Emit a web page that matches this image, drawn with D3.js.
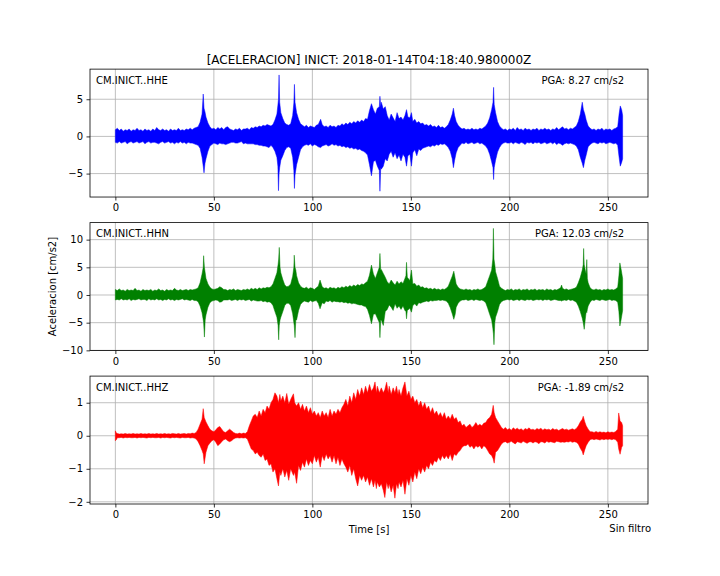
<!DOCTYPE html>
<html><head><meta charset="utf-8">
<script src="https://cdn.jsdelivr.net/npm/d3@7"></script>
<style>body{margin:0;background:#fff}svg{display:block}text{font-family:"DejaVu Sans",sans-serif;fill:#000}</style>
</head><body><svg id="c" width="720" height="576"></svg>
<script>
const titleText = "[ACELERACION] INICT: 2018-01-14T04:18:40.980000Z";
const stations = ["CM.INICT..HHE", "CM.INICT..HHN", "CM.INICT..HHZ"];
const pgaLabels = ["PGA: 8.27 cm/s2", "PGA: 12.03 cm/s2", "PGA: -1.89 cm/s2"];
const colors = ["#0000ff", "#008000", "#ff0000"];
const xTicks = [0, 50, 100, 150, 200, 250];
const yTicks = [[-5, 0, 5], [-10, -5, 0, 5, 10], [-2, -1, 0, 1]];
const timeRange = [0, 257.5];

// envelope readings: [time s, max, min]
const hhe = [
[0,0.9,-0.8],[1,1.1,-0.9],[2,0.8,-0.7],[3,1.0,-0.9],[4,0.7,-0.8],[5,0.9,-0.7],[6,0.8,-1.0],[7,1.0,-0.8],[8,0.7,-0.7],[9,0.9,-0.9],
[10,0.8,-0.8],[11,1.1,-0.7],[12,0.8,-0.9],[13,0.9,-0.8],[14,0.7,-0.7],[15,1.0,-1.0],[16,0.8,-0.8],[17,0.9,-0.7],[18,0.7,-0.9],[19,1.0,-0.8],
[20,0.8,-0.8],[21,1.2,-0.9],[22,0.9,-1.0],[23,0.8,-0.8],[24,1.0,-0.7],[25,0.8,-0.9],[26,0.9,-0.8],[27,0.7,-0.7],[28,1.0,-0.9],[29,0.8,-0.8],
[30,0.9,-1.0],[31,0.8,-0.8],[32,1.1,-0.9],[33,0.8,-0.7],[34,0.9,-0.9],[35,0.8,-0.8],[36,1.0,-1.0],[37,0.9,-0.8],[38,1.1,-0.9],[39,0.9,-0.9],
[40,1.1,-1.0],[41,1.2,-1.1],[42,1.3,-1.2],[43,1.9,-1.6],[44,3.0,-2.8],[44.6,5.7,-4.0],[45.0,3.8,-4.9],[45.5,3.3,-3.6],[46,2.6,-3.0],[47,1.8,-2.0],[48,1.3,-1.3],
[49,1.0,-1.1],[50,1.1,-0.9],[51,0.9,-1.0],[52,1.2,-1.1],[53,1.0,-0.9],[54,1.2,-1.0],[55,0.9,-1.0],[56,1.2,-1.1],[57,1.3,-1.0],[58,1.0,-0.9],
[59,0.9,-0.8],[60,0.8,-0.8],[61,1.0,-0.9],[62,0.9,-0.9],[63,1.1,-0.8],[64,0.8,-0.7],[65,1.0,-1.0],[66,1.0,-0.9],[67,1.1,-1.0],[68,0.9,-1.0],
[69,1.2,-1.0],[70,1.1,-1.0],[71,1.3,-1.1],[72,1.2,-1.1],[73,1.4,-1.2],[74,1.3,-1.2],[75,1.5,-1.3],[76,1.4,-1.3],[77,1.6,-1.4],[78,1.5,-1.5],
[79,1.4,-1.2],[80,1.6,-1.5],[81,2.2,-2.0],[82,3.0,-2.8],[82.5,4.2,-4.0],[82.8,5.0,-7.3],[83.1,8.27,-5.0],[83.4,4.6,-4.2],[84,3.2,-3.2],[85,2.4,-2.6],[86,1.8,-1.9],
[87,1.6,-1.5],[88,1.5,-1.4],[89,1.7,-1.6],[90,2.8,-2.8],[90.6,4.5,-4.6],[90.9,7.0,-7.0],[91.2,4.6,-5.2],[92,3.2,-3.8],[93,2.3,-2.8],[94,1.7,-1.8],
[95,1.5,-1.4],[96,1.3,-1.2],[97,1.5,-1.1],[98,1.2,-1.2],[99,1.4,-1.0],[100,1.3,-1.3],[101,1.2,-1.1],[102,1.5,-1.2],[103,1.6,-1.4],[104.2,2.3,-1.5],
[105,1.6,-1.3],[106,1.3,-1.2],[107,1.4,-1.1],[108,1.2,-1.3],[109,1.5,-1.2],[110,1.3,-1.0],[111,1.4,-1.2],[112,1.2,-1.1],[113,1.5,-1.3],[114,1.4,-1.2],
[115,1.7,-1.4],[116,1.5,-1.3],[117,1.8,-1.5],[118,1.6,-1.4],[119,1.9,-1.6],[120,1.7,-1.5],[121,2.0,-1.7],[122,1.8,-1.6],[123,2.1,-1.8],[124,1.9,-1.7],
[125,2.2,-1.9],[126,2.0,-2.0],[127,2.4,-2.2],[128,2.3,-2.5],[129,3.5,-3.8],[130,4.4,-5.3],[131,3.6,-3.4],[132,3.0,-3.2],[133,3.8,-4.0],[134,4.0,-4.6],[134.3,5.4,-7.37],[134.7,4.0,-4.2],
[135,4.6,-4.4],[136,3.7,-4.0],[137,4.0,-3.0],[138,2.8,-3.3],[139,2.2,-2.4],[140,3.0,-2.0],[141,2.5,-2.8],[142,2.0,-2.2],[143,3.2,-3.0],[144,2.4,-2.5],
[145,2.6,-3.3],[146,2.2,-2.4],[147,2.8,-2.8],[147.8,3.6,-4.0],[148.5,2.6,-2.6],[149.5,2.5,-2.4],[150.3,3.2,-4.0],[151,2.0,-2.2],[152,2.3,-1.8],[153,1.8,-2.6],
[154,2.0,-1.7],[155,1.7,-1.9],[156,1.8,-1.6],[157,1.5,-1.5],[158,1.6,-1.4],[159,1.4,-1.3],[160,1.6,-1.4],[161,1.3,-1.2],[162,1.4,-1.3],[163,1.2,-1.1],
[164,1.5,-1.2],[165,1.2,-1.0],[166,1.3,-1.1],[167,1.1,-1.0],[168,1.3,-1.2],[169,1.6,-1.5],[170,2.2,-2.0],[171,3.0,-3.0],[171.6,3.8,-4.2],[172.2,2.8,-3.2],
[173,2.0,-2.2],[174,1.5,-1.5],[175,1.2,-1.2],[176,1.0,-0.9],[177,1.1,-1.0],[178,0.9,-0.8],[179,1.0,-1.0],[180,0.9,-0.9],[181,1.1,-0.8],[182,0.9,-1.0],
[183,1.0,-0.9],[184,0.9,-0.8],[185,1.1,-1.0],[186,1.0,-0.9],[187,1.2,-1.1],[188,1.4,-1.3],[189,1.8,-1.7],[190,2.5,-2.4],[191,3.6,-3.4],[191.7,4.6,-4.2],[192,6.6,-5.8],
[192.3,4.3,-4.2],[193,3.2,-3.2],[194,2.0,-2.1],[195,1.4,-1.5],[196,1.1,-1.1],[197,0.9,-0.9],[198,1.0,-0.8],[199,0.8,-0.9],[200,1.0,-0.9],[201,0.9,-0.8],
[202,1.1,-1.0],[203,0.8,-0.8],[204,1.2,-0.9],[205,0.9,-1.0],[206,1.0,-0.8],[207,0.8,-0.9],[208,1.1,-1.1],[209,0.9,-0.8],[210,1.0,-0.9],[211,0.8,-0.8],
[212,1.0,-1.0],[213,0.9,-0.8],[214,1.1,-0.9],[215,0.8,-0.8],[216,1.0,-1.0],[217,0.9,-0.9],[218,1.1,-0.8],[219,0.9,-1.0],[220,1.0,-0.9],[221,0.8,-0.8],
[222,1.0,-1.0],[223,0.9,-0.8],[224,1.2,-1.1],[225,0.9,-0.9],[226,1.1,-1.0],[227,1.3,-1.2],[228,1.0,-1.0],[229,1.1,-0.9],[230,0.9,-1.0],[231,1.1,-0.9],
[232,1.0,-1.0],[233,1.2,-1.1],[234,1.4,-1.3],[235,2.0,-1.8],[236,3.0,-2.8],[237,4.6,-3.6],[237.6,3.6,-4.2],[238.3,3.0,-3.2],[239,2.2,-2.5],[240,1.4,-1.4],
[241,1.1,-1.1],[242,0.9,-0.9],[243,1.0,-0.8],[244,0.8,-0.9],[245,1.0,-1.0],[246,0.9,-0.8],[247,1.1,-0.9],[248,0.8,-0.8],[249,1.0,-1.0],[250,0.9,-0.9],
[251,1.0,-0.8],[252,0.8,-0.9],[253,1.0,-1.0],[254,1.1,-0.9],[255,1.3,-1.2],[255.7,3.0,-2.8],[256.3,4.1,-4.0],[257,3.6,-3.5],[257.5,2.8,-3.0]
];

const hhn = [
[0,1.0,-0.9],[1,0.8,-0.8],[2,1.1,-0.9],[3,0.8,-0.7],[4,0.9,-0.9],[5,0.7,-0.8],[6,1.0,-0.9],[7,0.8,-0.7],[8,0.9,-1.0],[9,0.8,-0.8],
[10,1.2,-0.9],[11,0.8,-0.8],[12,0.9,-0.7],[13,0.7,-0.9],[14,1.0,-0.8],[15,0.8,-0.8],[16,0.9,-1.0],[17,0.8,-0.7],[18,1.0,-0.9],[19,0.7,-0.8],
[20,0.9,-0.9],[21,0.8,-0.7],[22,1.1,-0.9],[23,0.8,-0.8],[24,0.9,-1.0],[25,0.7,-0.8],[26,1.0,-0.9],[27,0.8,-0.7],[28,0.9,-0.9],[29,0.8,-0.8],
[30,1.2,-1.0],[31,0.9,-0.8],[32,0.8,-0.9],[33,1.0,-0.8],[34,0.8,-0.7],[35,0.9,-0.9],[36,1.0,-0.8],[37,0.8,-0.9],[38,1.0,-1.0],[39,0.9,-0.8],
[40,1.0,-1.0],[41,1.1,-1.0],[42,1.3,-1.2],[43,2.2,-2.0],[44,3.8,-3.2],[44.6,5.0,-4.5],[44.8,7.1,-5.0],[45.2,5.0,-7.6],[45.6,4.0,-4.5],[46,3.0,-3.6],[47,2.0,-2.2],[48,1.4,-1.4],
[49,1.1,-1.1],[50,1.0,-1.0],[51,1.1,-0.9],[52,1.2,-1.0],[53,1.5,-1.3],[54,1.3,-1.2],[55,1.0,-0.9],[56,1.0,-0.9],[57,0.8,-0.9],[58,1.0,-0.8],
[59,0.9,-1.0],[60,1.1,-0.9],[61,0.8,-0.8],[62,1.0,-1.0],[63,0.9,-0.8],[64,0.8,-0.9],[65,1.0,-0.8],[66,0.9,-1.0],[67,1.1,-0.9],[68,0.9,-0.8],
[69,1.2,-1.1],[70,1.0,-0.9],[71,1.2,-1.0],[72,1.0,-1.1],[73,1.3,-1.1],[74,1.1,-1.0],[75,1.3,-1.2],[76,1.2,-1.1],[77,1.4,-1.3],[78,1.3,-1.2],
[79,1.5,-1.4],[80,2.0,-1.9],[81,3.0,-3.0],[82,4.0,-4.0],[82.6,5.5,-5.5],[82.9,6.5,-8.1],[83.2,8.6,-5.5],[83.6,5.0,-4.5],[84,4.0,-4.0],[85,2.8,-3.0],[86,1.8,-1.9],[87,1.5,-1.5],
[88,1.6,-1.5],[89,2.0,-1.9],[90,3.4,-3.4],[90.6,5.0,-5.0],[90.8,7.2,-5.5],[91.2,5.0,-7.7],[91.6,4.5,-4.5],[92,3.5,-4.5],[93,2.2,-2.8],[94,1.6,-1.7],[95,1.3,-1.3],[96,1.2,-1.1],
[97,1.4,-1.2],[98,1.1,-1.3],[99,1.3,-1.0],[100,1.2,-1.2],[101,1.0,-1.1],[102,1.3,-1.0],[103,1.6,-1.5],[103.9,2.7,-2.5],[105,1.5,-1.4],[106,1.2,-1.6],
[107,1.3,-1.1],[108,1.1,-1.2],[109,1.4,-1.0],[110,1.2,-1.3],[111,1.3,-1.1],[112,1.1,-1.2],[113,1.4,-1.2],[114,1.2,-1.3],[115,1.5,-1.2],[116,1.3,-1.4],
[117,1.6,-1.3],[118,1.4,-1.5],[119,1.7,-1.4],[120,1.5,-1.6],[121,1.8,-1.5],[122,1.6,-1.6],[123,1.9,-1.7],[124,1.7,-1.8],[125,2.0,-1.8],[126,1.9,-2.0],
[127,2.2,-2.1],[128,2.5,-2.6],[129,3.6,-3.7],[130,5.4,-5.2],[131,3.8,-3.5],[132,3.0,-3.4],[133,4.0,-4.2],[134,5.0,-5.0],[134.3,7.5,-7.7],[134.7,4.5,-4.5],[135,4.6,-4.5],[136,3.9,-5.5],
[137,3.2,-3.0],[138,2.4,-2.6],[139,2.0,-1.8],[140,2.7,-2.2],[141,2.2,-2.8],[142,1.8,-1.6],[143,2.5,-2.4],[144,2.0,-2.0],[145,2.4,-2.6],[146,2.1,-2.0],
[147,3.0,-2.8],[147.5,3.5,-3.0],[147.8,5.9,-4.3],[148.2,3.2,-2.8],[149.5,2.6,-2.4],[150.3,4.5,-3.1],[151,2.0,-1.9],[152,2.1,-1.6],[153,1.6,-2.0],[154,1.8,-1.4],[155,1.4,-1.5],
[156,1.5,-1.3],[157,1.2,-1.2],[158,1.3,-1.1],[159,1.1,-1.2],[160,1.2,-1.0],[161,1.0,-1.1],[162,1.2,-1.0],[163,1.0,-1.0],[164,1.1,-0.9],[165,0.9,-1.0],
[166,1.1,-0.9],[167,1.0,-1.0],[168,1.2,-1.1],[169,1.6,-1.5],[170,2.5,-2.3],[171,3.4,-3.4],[171.8,4.3,-4.4],[172.5,3.0,-3.5],[173,2.0,-2.2],[174,1.4,-1.5],
[175,1.1,-1.1],[176,1.0,-0.9],[177,0.9,-0.9],[178,1.1,-0.8],[179,0.9,-1.0],[180,1.0,-0.9],[181,0.8,-0.8],[182,1.0,-1.0],[183,0.9,-0.8],[184,1.1,-0.9],
[185,0.9,-1.0],[186,1.0,-0.9],[187,1.2,-1.1],[188,1.5,-1.4],[189,2.5,-2.4],[190,3.5,-3.5],[191,4.5,-4.5],[191.6,6.5,-6.0],[191.9,12.03,-7.0],[192.2,6.5,-8.98],[192.6,5.5,-5.0],[193,4.2,-4.0],
[194,3.0,-3.0],[195,1.6,-1.7],[196,1.2,-1.2],[197,1.0,-1.0],[198,0.8,-0.9],[199,1.0,-0.8],[200,0.9,-0.9],[201,1.1,-0.8],[202,0.8,-1.0],[203,1.0,-0.9],
[204,0.9,-0.8],[205,1.1,-1.0],[206,0.8,-0.8],[207,1.0,-0.9],[208,0.9,-1.0],[209,1.1,-0.8],[210,0.8,-0.9],[211,1.0,-0.8],[212,0.9,-1.0],[213,1.1,-0.9],
[214,0.8,-0.8],[215,1.0,-0.9],[216,0.9,-0.8],[217,1.0,-1.0],[218,0.8,-0.8],[219,1.1,-0.9],[220,0.9,-0.8],[221,1.0,-1.0],[222,0.8,-0.9],[223,1.0,-0.8],
[224,0.9,-0.9],[225,1.1,-1.0],[226,1.3,-1.0],[226.5,1.8,-1.1],[227,1.2,-1.0],[228,1.0,-0.9],[229,1.1,-1.0],[230,0.9,-0.8],[231,1.0,-1.0],[232,1.1,-0.9],
[233,1.2,-1.1],[234,1.4,-1.3],[235,2.2,-2.0],[236,3.2,-3.0],[237,4.5,-4.2],[237.5,5.5,-5.0],[237.7,8.4,-5.5],[238,5.5,-6.2],[238.5,4.5,-4.5],[239,3.8,-3.0],[239.3,6.4,-3.2],[239.6,3.0,-2.6],[240,2.2,-2.0],[241,1.3,-1.3],
[242,1.0,-0.9],[243,0.9,-1.0],[244,1.1,-0.8],[245,0.9,-0.9],[246,1.0,-1.0],[247,0.8,-0.8],[248,1.0,-0.9],[249,0.9,-1.0],[250,1.1,-0.9],[251,0.9,-0.8],
[252,1.0,-1.0],[253,0.9,-0.9],[254,1.1,-1.0],[255,1.4,-1.3],[255.6,3.5,-3.0],[256.1,5.8,-5.6],[256.8,4.5,-4.3],[257.5,3.0,-2.8]
];

const hhz = [
[0,0.15,-0.15],[0.5,0.08,-0.12],[1,0.07,-0.06],[2,0.05,-0.06],[3,0.06,-0.05],[4,0.05,-0.07],[5,0.07,-0.05],[6,0.05,-0.06],[7,0.06,-0.05],[8,0.05,-0.06],
[9,0.07,-0.06],[10,0.05,-0.05],[11,0.06,-0.07],[12,0.05,-0.05],[13,0.07,-0.06],[14,0.05,-0.05],[15,0.06,-0.06],[16,0.05,-0.07],[17,0.07,-0.05],[18,0.05,-0.06],
[19,0.06,-0.05],[20,0.05,-0.06],[21,0.07,-0.06],[22,0.05,-0.05],[23,0.06,-0.07],[24,0.05,-0.05],[25,0.07,-0.06],[26,0.05,-0.05],[27,0.06,-0.06],[28,0.05,-0.07],
[29,0.07,-0.05],[30,0.06,-0.06],[31,0.05,-0.05],[32,0.07,-0.06],[33,0.05,-0.07],[34,0.06,-0.05],[35,0.07,-0.06],[36,0.05,-0.06],[37,0.07,-0.05],[38,0.06,-0.07],
[39,0.08,-0.06],[40,0.07,-0.07],[41,0.1,-0.1],[42,0.2,-0.18],[43,0.35,-0.3],[44,0.5,-0.45],[44.6,0.82,-0.55],[45.1,0.55,-0.85],[46,0.42,-0.5],[47,0.3,-0.3],
[48,0.2,-0.22],[49,0.15,-0.15],[50,0.12,-0.12],[51,0.18,-0.2],[52,0.25,-0.3],[53,0.28,-0.25],[54,0.2,-0.18],[55,0.12,-0.12],[56,0.1,-0.1],[57,0.15,-0.15],
[58,0.2,-0.18],[59,0.15,-0.15],[60,0.1,-0.1],[61,0.07,-0.07],[62,0.06,-0.06],[63,0.08,-0.07],[64,0.06,-0.06],[65,0.08,-0.07],[66,0.07,-0.06],[67,0.12,-0.1],
[68,0.3,-0.25],[69,0.45,-0.4],[70,0.6,-0.45],[71,0.65,-0.55],[72,0.55,-0.5],[73,0.75,-0.6],[74,0.6,-0.65],[75,0.8,-0.55],[76,0.7,-0.75],[77,0.9,-0.7],
[78,0.8,-0.9],[79,1.0,-0.85],[80,1.1,-1.1],[81,1.3,-1.0],[82,1.2,-1.3],[82.8,1.0,-1.52],[83.5,1.25,-1.1],[84,1.05,-1.2],[85,1.2,-1.0],[86,1.0,-1.25],
[87,1.28,-1.05],[88,0.95,-1.35],[89,1.1,-1.0],[90.4,1.27,-1.2],[91,1.0,-1.1],[92,0.9,-1.44],[93,1.0,-0.9],[94,0.8,-1.05],[95,0.95,-0.8],[96,0.75,-0.95],
[97,0.9,-0.7],[98,0.7,-0.9],[99,0.85,-0.75],[100,0.65,-0.85],[101,0.75,-0.6],[102,0.6,-0.8],[103,0.7,-0.65],[104,0.55,-0.95],[105,0.75,-0.6],[106,0.6,-0.75],
[107,0.7,-0.55],[108,0.55,-0.7],[109,0.8,-0.6],[110,0.6,-0.8],[111,0.75,-0.6],[112,0.65,-0.85],[113,0.8,-0.65],[114,0.7,-0.9],[115,0.85,-0.7],[116,0.95,-0.85],
[117,1.1,-0.95],[118,0.9,-1.1],[119,1.2,-0.9],[120,1.0,-1.2],[121,1.3,-1.0],[122,1.1,-1.3],[123,1.4,-1.52],[124,1.2,-1.2],[125,1.45,-1.35],[126,1.25,-1.2],
[127,1.5,-1.4],[128,1.3,-1.25],[129,1.55,-1.5],[130,1.35,-1.3],[131,1.45,-1.55],[131.8,1.63,-1.35],[132.5,1.3,-1.6],[133,1.5,-1.4],[134,1.3,-1.55],[135,1.45,-1.45],
[136,1.3,-1.65],[136.8,1.4,-1.87],[137.7,1.62,-1.4],[138.5,1.3,-1.6],[139,1.5,-1.45],[140,1.25,-1.7],[141,1.45,-1.5],[141.9,1.3,-1.89],[142.7,1.5,-1.45],[143.5,1.25,-1.6],
[144,1.4,-1.4],[145,1.2,-1.55],[146,1.45,-1.35],[147,1.63,-1.77],[148,1.2,-1.3],[149,1.35,-1.5],[150,1.1,-1.2],[151,1.2,-1.4],[152,1.0,-1.1],[153,1.1,-1.3],
[154,0.9,-1.0],[155,1.05,-1.15],[156,0.85,-0.95],[157,1.0,-1.1],[158,0.8,-0.9],[159,0.9,-1.0],[160,0.7,-0.8],[161,0.85,-0.9],[162,0.65,-0.75],[163,0.75,-0.8],
[164,0.6,-0.65],[165,0.7,-0.75],[166,0.55,-0.6],[167,0.7,-0.7],[168,0.5,-0.6],[169,0.6,-0.7],[170,0.5,-0.55],[171,0.65,-0.75],[172,0.5,-0.55],[173,0.55,-0.6],
[174,0.4,-0.5],[175,0.45,-0.45],[176,0.3,-0.35],[177,0.35,-0.3],[178,0.25,-0.3],[179,0.3,-0.25],[180,0.35,-0.35],[181,0.25,-0.3],[182,0.3,-0.4],[183,0.4,-0.3],
[184,0.3,-0.35],[185,0.35,-0.3],[186,0.3,-0.4],[187,0.38,-0.3],[188,0.4,-0.35],[189,0.5,-0.45],[190,0.55,-0.55],[191,0.65,-0.6],[191.8,0.92,-0.7],[192.3,0.7,-0.83],
[193,0.55,-0.5],[194,0.45,-0.45],[195,0.35,-0.35],[196,0.25,-0.25],[197,0.2,-0.2],[198,0.25,-0.18],[199,0.18,-0.22],[200,0.22,-0.2],[201,0.17,-0.17],[202,0.24,-0.21],
[203,0.19,-0.25],[204,0.23,-0.18],[205,0.18,-0.2],[206,0.21,-0.22],[207,0.16,-0.17],[208,0.22,-0.2],[209,0.19,-0.23],[210,0.24,-0.19],[211,0.18,-0.18],[212,0.2,-0.22],
[213,0.17,-0.18],[214,0.22,-0.2],[215,0.19,-0.24],[216,0.23,-0.18],[217,0.17,-0.19],[218,0.21,-0.22],[219,0.18,-0.17],[220,0.2,-0.2],[221,0.17,-0.18],[222,0.22,-0.2],
[223,0.18,-0.21],[224,0.2,-0.17],[225,0.16,-0.18],[226,0.19,-0.2],[227,0.22,-0.19],[228,0.18,-0.2],[229,0.2,-0.18],[230,0.17,-0.19],[231,0.19,-0.17],[232,0.21,-0.2],
[233,0.18,-0.18],[234,0.22,-0.2],[235,0.3,-0.25],[236,0.42,-0.38],[237,0.5,-0.48],[237.5,0.59,-0.58],[238.3,0.42,-0.42],[239,0.3,-0.3],[240,0.2,-0.2],[241,0.12,-0.12],
[242,0.12,-0.1],[243,0.1,-0.12],[244,0.13,-0.1],[245,0.1,-0.11],[246,0.12,-0.13],[247,0.1,-0.1],[248,0.11,-0.12],[249,0.09,-0.1],[250,0.12,-0.11],[251,0.1,-0.1],
[252,0.11,-0.12],[253,0.1,-0.1],[254,0.13,-0.12],[255,0.2,-0.2],[255.5,0.69,-0.4],[256.2,0.45,-0.56],[257,0.4,-0.35],[257.5,0.3,-0.3]
];
const traces = [hhe, hhn, hhz];

const svg = d3.select("#c");
const L = 90, R = 648, top0 = 69.12, bottom0 = 504;
const ph = (bottom0 - top0) / 3.4, gap = ph * 0.2;
const span = timeRange[1] - timeRange[0];
const x = d3.scaleLinear().domain([timeRange[0] - 0.05 * span, timeRange[1] + 0.05 * span]).range([L, R]);
const minus = s => String(s).replace("-", "\u2212");

traces.forEach((data, i) => {
  const t = top0 + i * (ph + gap), b = t + ph;
  const lo = d3.min(data, d => d[2]), hi = d3.max(data, d => d[1]);
  const pad = 0.05 * (hi - lo);
  const y = d3.scaleLinear().domain([lo - pad, hi + pad]).range([b, t]);
  const g = svg.append("g");
  g.append("clipPath").attr("id", "clip" + i).append("rect").attr("x", L).attr("y", t).attr("width", R - L).attr("height", ph);
  g.selectAll(".gx").data(xTicks).join("line").attr("x1", d => x(d)).attr("x2", d => x(d)).attr("y1", t).attr("y2", b)
    .attr("stroke", "#b0b0b0").attr("stroke-width", 0.8);
  g.selectAll(".gy").data(yTicks[i]).join("line").attr("class", "gy").attr("y1", d => y(d)).attr("y2", d => y(d)).attr("x1", L).attr("x2", R)
    .attr("stroke", "#b0b0b0").attr("stroke-width", 0.8);
  const area = d3.area().x(d => x(d[0])).y0(d => y(d[2])).y1(d => y(d[1]));
  g.append("path").datum(data).attr("d", area).attr("fill", colors[i]).attr("stroke", colors[i])
    .attr("stroke-width", 0.5).attr("stroke-linejoin", "round").attr("clip-path", `url(#clip${i})`);
  const xa = g.append("g").attr("transform", `translate(0,${b})`)
    .call(d3.axisBottom(x).tickValues(xTicks).tickSize(3.5).tickPadding(3.5).tickFormat(d3.format("d")));
  const ya = g.append("g").attr("transform", `translate(${L},0)`)
    .call(d3.axisLeft(y).tickValues(yTicks[i]).tickSize(3.5).tickPadding(3.5).tickFormat(d => minus(d)));
  [xa, ya].forEach(a => {
    a.select(".domain").remove();
    a.selectAll("line").attr("stroke", "#000").attr("stroke-width", 0.8);
    a.selectAll("text").attr("font-size", 10).attr("font-family", "DejaVu Sans").attr("fill", "#000");
  });
  g.append("rect").attr("x", L).attr("y", t).attr("width", R - L).attr("height", ph)
    .attr("fill", "none").attr("stroke", "#000").attr("stroke-width", 0.8);
  g.append("text").attr("x", L + 6).attr("y", t + 14.6).attr("font-size", 10).text(stations[i]);
  g.append("text").attr("x", R - 24).attr("y", t + 14.6).attr("font-size", 10).attr("text-anchor", "end").text(pgaLabels[i]);
  if (i === 1) {
    svg.append("text").attr("transform", `translate(56,${(t + b) / 2}) rotate(-90)`).attr("text-anchor", "middle")
      .attr("font-size", 10).text("Aceleracion [cm/s2]");
  }
});

svg.append("text").attr("x", (L + R) / 2).attr("y", 64).attr("text-anchor", "middle").attr("font-size", 12).text(titleText);
svg.append("text").attr("x", (L + R) / 2).attr("y", 533).attr("text-anchor", "middle").attr("font-size", 10).text("Time [s]");
svg.append("text").attr("x", 651).attr("y", 532).attr("text-anchor", "end").attr("font-size", 10).text("Sin filtro");
</script></body></html>
